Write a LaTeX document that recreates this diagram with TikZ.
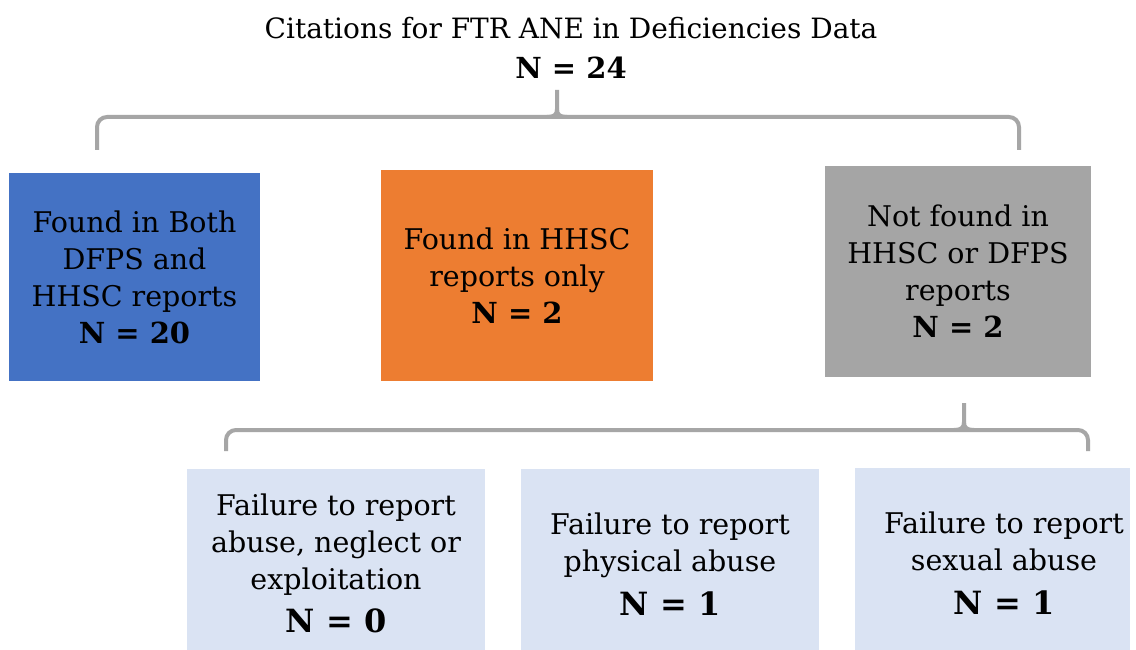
\documentclass[tikz,border=0pt]{standalone}
\usepackage{fontspec}
\setmainfont{DejaVu Serif}
\definecolor{cblue}{HTML}{4472C4}
\definecolor{corange}{HTML}{ED7D31}
\definecolor{cgray}{HTML}{A5A5A5}
\definecolor{clight}{HTML}{DAE3F3}
\definecolor{cbrace}{HTML}{A6A6A6}
\begin{document}
\begin{tikzpicture}[x=1pt,y=-1pt,
  box/.style={draw=none, inner sep=0pt, align=center, font=\fontsize{28.5}{37}\selectfont},
  brace/.style={draw=cbrace, line width=4pt, rounded corners=10pt},
  cusp/.style={draw=cbrace, line width=4pt}]
\useasboundingbox (0,0) rectangle (1136,650);
\fill[white] (0,0) rectangle (1136,650);
% title
\node[box, font=\fontsize{28}{40}\selectfont] (title) at (571,48) {Citations for FTR ANE in Deficiencies Data\\{\fontsize{29}{40}\selectfont\bfseries N = 24}};
% top brace
\coordinate (tt) at (557,90);
\coordinate (tm) at (557,117);
\coordinate (tl) at (97,150);
\coordinate (tr) at (1019,150);
\draw[brace] (tl) |- (tm) -| (tr);
\draw[cusp] (547,117) .. controls (554,117) and (557,115) .. (557,109) -- (tt);
\draw[cusp] (567,117) .. controls (560,117) and (557,115) .. (557,109);
% middle boxes
\node[box, fill=cblue, minimum width=251pt, minimum height=208pt] (both) at (134.5,277)
  {Found in Both\\DFPS and\\HHSC reports\\{\fontsize{29}{37}\selectfont\bfseries N = 20}};
\node[box, fill=corange, minimum width=272pt, minimum height=211pt] (hhsc) at (517,275.5)
  {Found in HHSC\\reports only\\{\fontsize{29}{37}\selectfont\bfseries N = 2}};
\node[box, fill=cgray, minimum width=266pt, minimum height=211pt] (none) at (958,271.5)
  {Not found in\\HHSC or DFPS\\reports\\{\fontsize{29}{37}\selectfont\bfseries N = 2}};
% bottom brace
\coordinate (bt) at (964,403);
\coordinate (bm) at (964,430);
\coordinate (bl) at (226,451);
\coordinate (br) at (1088,451);
\draw[brace] (bl) |- (bm) -| (br);
\draw[cusp] (954,430) .. controls (961,430) and (964,428) .. (964,422) -- (bt);
\draw[cusp] (974,430) .. controls (967,430) and (964,428) .. (964,422);
% bottom boxes
\node[box, fill=clight, minimum width=298pt, minimum height=181pt] (ane) at (336,559.5) {};
\node[box, anchor=center] (anet) at (336,563)
  {Failure to report\\abuse, neglect or\\exploitation\\[6pt]{\fontsize{32}{40}\selectfont\bfseries N = 0}};
\node[box, fill=clight, minimum width=298pt, minimum height=181pt] (phys) at (670,559.5) {};
\node[box] (physt) at (670,564)
  {Failure to report\\physical abuse\\[7pt]{\fontsize{32}{40}\selectfont\bfseries N = 1}};
\node[box, fill=clight, minimum width=275pt, minimum height=182pt] (sex) at (992.5,559) {};
\node[box] (sext) at (1004,563)
  {Failure to report\\sexual abuse\\[7pt]{\fontsize{32}{40}\selectfont\bfseries N = 1}};
\end{tikzpicture}
\end{document}
